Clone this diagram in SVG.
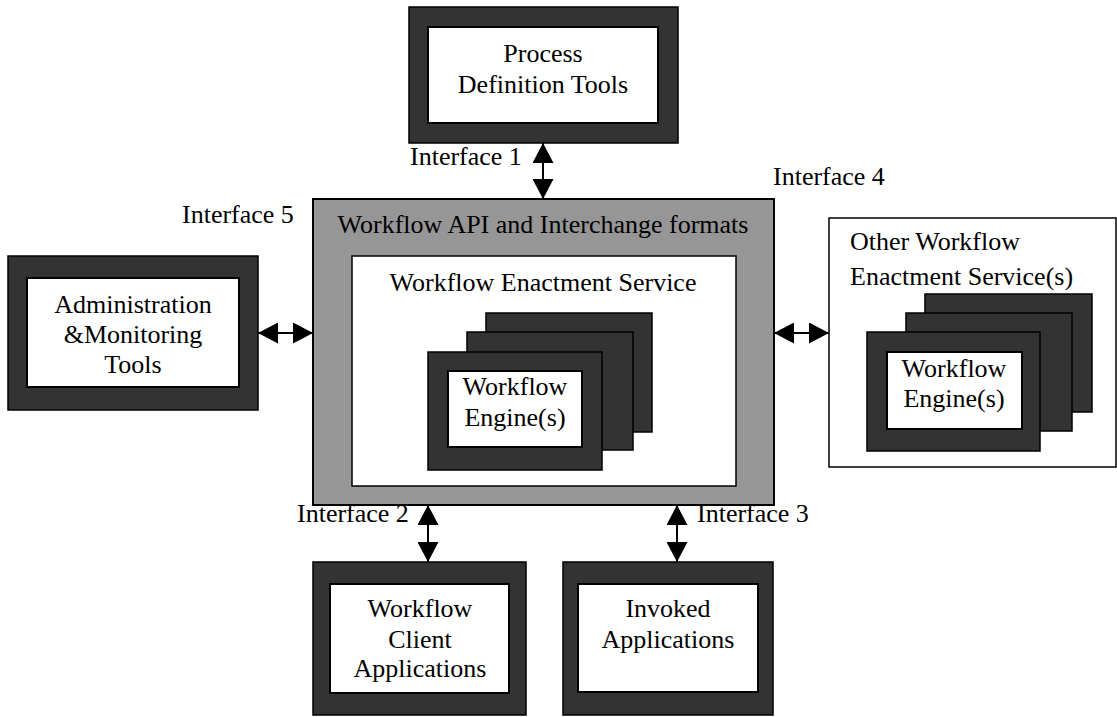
<svg xmlns="http://www.w3.org/2000/svg" width="1117" height="717" viewBox="0 0 1117 717" font-family="Liberation Serif, serif" font-size="26">
  <style>
    .c { text-anchor: middle; }
    .frame { fill: #333333; stroke: #000; stroke-width: 1.5; }
    .pane { fill: #ffffff; stroke: #000; stroke-width: 2; }
    .api { fill: #969696; stroke: #000; stroke-width: 2; }
    .box { fill: #ffffff; stroke: #000; stroke-width: 1.5; }
    .link { stroke: #000; stroke-width: 2; fill: none; marker-start: url(#head); marker-end: url(#head); }
  </style>
  <defs>
    <marker id="head" viewBox="0 0 20 21" refX="20" refY="10.5" markerWidth="20" markerHeight="21" markerUnits="userSpaceOnUse" orient="auto-start-reverse">
      <path d="M0,0 L20,10.5 L0,21 Z" fill="#000"/>
    </marker>
  </defs>

  <rect width="1117" height="717" fill="#ffffff"/>

  <!-- Process definition tools -->
  <g id="process-definition">
    <rect class="frame" x="409" y="7" width="269" height="136"/>
    <rect class="pane" x="428" y="27" width="230" height="96"/>
    <text class="c" x="543" y="62">Process</text>
    <text class="c" x="543" y="93">Definition Tools</text>
  </g>

  <!-- Central service: API and interchange formats -->
  <g id="workflow-api">
    <rect class="api" x="313" y="199" width="461" height="306"/>
    <text class="c" x="543" y="233">Workflow API and Interchange formats</text>
    <rect class="box" x="352" y="256" width="384" height="230"/>
    <text class="c" x="543" y="291">Workflow Enactment Service</text>
    <rect class="frame" x="486" y="313" width="166" height="119"/>
    <rect class="frame" x="467" y="332" width="166" height="118"/>
    <rect class="frame" x="428" y="352" width="174" height="118"/>
    <rect class="pane" x="448" y="371" width="134" height="76"/>
    <text class="c" x="515" y="395">Workflow</text>
    <text class="c" x="515" y="426">Engine(s)</text>
  </g>

  <!-- Administration & monitoring tools -->
  <g id="admin-monitoring">
    <rect class="frame" x="8" y="256" width="250" height="154"/>
    <rect class="pane" x="27" y="278" width="212" height="109"/>
    <text class="c" x="133" y="313">Administration</text>
    <text class="c" x="133" y="343">&amp;Monitoring</text>
    <text class="c" x="133" y="373">Tools</text>
  </g>

  <!-- Other enactment services -->
  <g id="other-services">
    <rect class="box" x="829" y="218" width="287" height="249"/>
    <text x="850" y="250">Other Workflow</text>
    <text x="850" y="285">Enactment Service(s)</text>
    <rect class="frame" x="925" y="294" width="167" height="118"/>
    <rect class="frame" x="906" y="313" width="166" height="118"/>
    <rect class="frame" x="867" y="332" width="173" height="119"/>
    <rect class="pane" x="887" y="352" width="135" height="77"/>
    <text class="c" x="954" y="377">Workflow</text>
    <text class="c" x="954" y="407">Engine(s)</text>
  </g>

  <!-- Client applications -->
  <g id="client-applications">
    <rect class="frame" x="313" y="562" width="213" height="153"/>
    <rect class="pane" x="330" y="584" width="179" height="109"/>
    <text class="c" x="420" y="617">Workflow</text>
    <text class="c" x="420" y="648">Client</text>
    <text class="c" x="420" y="677">Applications</text>
  </g>

  <!-- Invoked applications -->
  <g id="invoked-applications">
    <rect class="frame" x="563" y="562" width="210" height="153"/>
    <rect class="pane" x="578" y="584" width="180" height="108"/>
    <text class="c" x="668" y="617">Invoked</text>
    <text class="c" x="668" y="648">Applications</text>
  </g>

  <!-- Interfaces -->
  <g id="connectors">
    <line class="link" x1="543" y1="143" x2="543" y2="199"/>
    <line class="link" x1="258" y1="333" x2="313" y2="333"/>
    <line class="link" x1="774" y1="333" x2="829" y2="333"/>
    <line class="link" x1="428" y1="505" x2="428" y2="562"/>
    <line class="link" x1="677" y1="505" x2="677" y2="562"/>
    <text x="410" y="165">Interface 1</text>
    <text x="297" y="522">Interface 2</text>
    <text x="697" y="522">Interface 3</text>
    <text x="773" y="185">Interface 4</text>
    <text x="182" y="223">Interface 5</text>
  </g>
</svg>
